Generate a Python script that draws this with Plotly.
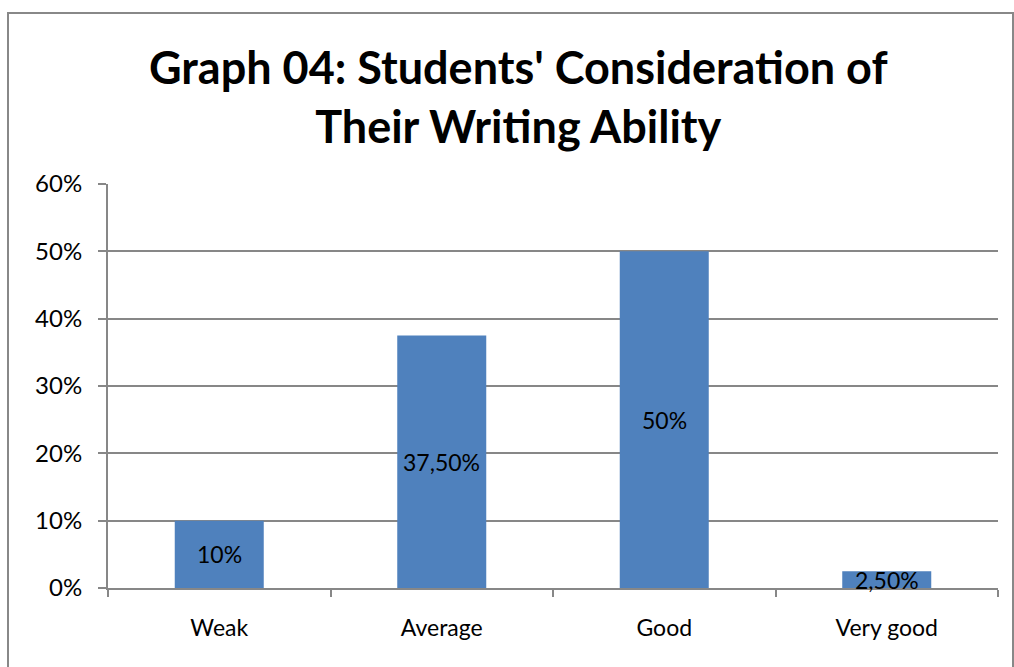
import plotly.graph_objects as go

categories = ["Weak", "Average", "Good", "Very good"]
shares = [10.0, 37.5, 50.0, 2.5]          # percent of students
y_ticks = [0, 10, 20, 30, 40, 50, 60]
y_tick_text = ["0%", "10%", "20%", "30%", "40%", "50%", "60%"]


def fmt_pct(v):
    # comma as decimal separator, two decimals unless whole number
    if float(v).is_integer():
        return f"{int(v)}%"
    return f"{v:.2f}".replace(".", ",") + "%"


W, H = 1014, 667
L, R, T, B = 108, 16, 184, 79
pw, ph = W - L - R, H - T - B

FONT = "Lato"
GRID = "#878787"
BAR = "#4F81BD"
TXT = 23

fig = go.Figure()
fig.add_trace(go.Bar(
    x=categories, y=shares, width=0.4,
    marker=dict(color=BAR, line=dict(width=0)),
    hoverinfo="skip",
))

# value labels centred on each bar
for c, v in zip(categories, shares):
    fig.add_annotation(x=c, y=v / 2, text=fmt_pct(v), showarrow=False,
                       xanchor="center", yanchor="middle",
                       font=dict(family=FONT, size=TXT, color="#000000"))

# two-line chart title
fig.add_annotation(xref="paper", yref="paper",
                   x=(518 - L) / pw, y=(H - B - 96) / ph,
                   xanchor="center", yanchor="middle", showarrow=False,
                   text="<b>Graph 04: Students' Consideration of<br>Their Writing Ability</b>",
                   font=dict(family=FONT, size=45, color="#000000"))

# outer chart frame
fig.add_shape(type="rect", xref="paper", yref="paper",
              x0=(8 - L) / pw, x1=(1013 - L) / pw,
              y0=-100 / ph, y1=(H - B - 13) / ph,
              line=dict(color="#888888", width=2), fillcolor="rgba(0,0,0,0)",
              layer="below")

fig.update_layout(
    width=W, height=H,
    margin=dict(l=L, r=R, t=T, b=B, pad=0),
    paper_bgcolor="white", plot_bgcolor="white",
    showlegend=False,
    bargap=0.6,
)
fig.update_xaxes(
    type="category", showgrid=False, showline=True, linecolor=GRID, linewidth=2,
    ticks="outside", tickson="boundaries", ticklen=7, tickcolor=GRID, tickwidth=2,
    tickfont=dict(family=FONT, size=TXT, color="#000000"),
    ticklabelstandoff=18, zeroline=False,
)
fig.update_yaxes(
    range=[0, 60], tickvals=y_ticks, ticktext=y_tick_text,
    showgrid=True, gridcolor=GRID, gridwidth=2,
    showline=True, linecolor=GRID, linewidth=2,
    ticks="outside", ticklen=8, tickcolor=GRID, tickwidth=2,
    tickfont=dict(family=FONT, size=TXT + 1, color="#000000"),
    ticklabelstandoff=11, zeroline=False,
)

fig.write_html("out.html")
